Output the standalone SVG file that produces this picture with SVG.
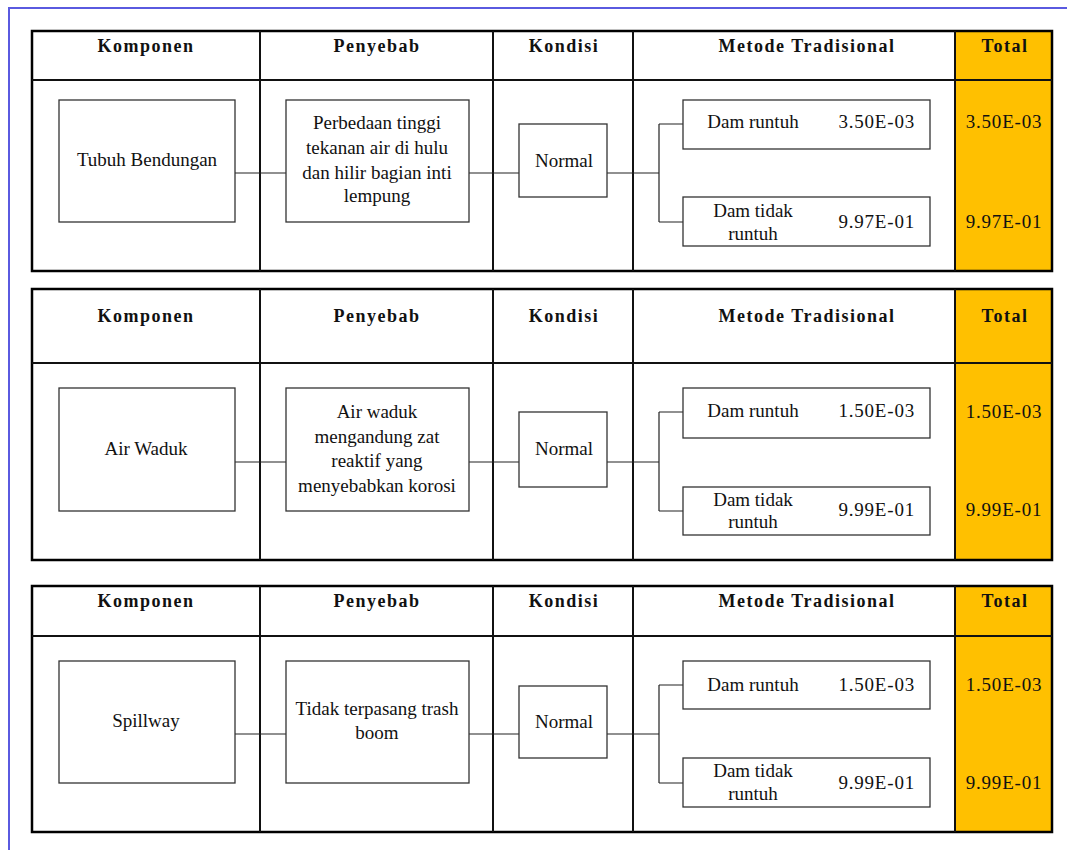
<svg xmlns="http://www.w3.org/2000/svg" width="1067" height="850" viewBox="0 0 1067 850" font-family="'Liberation Serif', 'Times New Roman', 'DejaVu Serif', serif">
<style>
.frame{fill:none;stroke:#5a5ae0;stroke-width:2}
.tbl{fill:none;stroke:#000;stroke-width:2.5}
.div{fill:none;stroke:#111;stroke-width:2}
.tot{fill:#FFC000;stroke:none}
.box{fill:#fff;stroke:#333;stroke-width:1.3}
.con{fill:none;stroke:#222;stroke-width:1.2}
text{font-family:'Liberation Serif','Times New Roman','DejaVu Serif',serif;fill:#111}
.h{font-weight:bold;font-size:18px;letter-spacing:1.5px;text-anchor:middle}
.t{font-size:19px;text-anchor:middle}
.n{font-size:19px;letter-spacing:0.8px;text-anchor:end}
.nc{font-size:19px;letter-spacing:0.8px;text-anchor:middle}
</style>
<rect width="1067" height="850" fill="#fff"/>
<path class="frame" d="M9 850 V8 H1067"/>

<!-- Table 1 -->
<g id="table1">
<rect class="tot" x="955" y="31" width="97" height="240"/>
<rect class="tbl" x="32" y="31" width="1020" height="240"/>
<path class="div" d="M32 80 H1052 M260 31 V271 M493 31 V271 M633 31 V271 M955 31 V271"/>
<text class="h" x="146" y="52">Komponen</text>
<text class="h" x="377" y="52">Penyebab</text>
<text class="h" x="564" y="52">Kondisi</text>
<text class="h" x="807" y="52">Metode Tradisional</text>
<text class="h" x="1005" y="52">Total</text>
</g>
<g id="connectors1">
<path class="con" d="M235 173 H286 M469 173 H519 M607 173 H659 M659 124 V222 M659 124 H683 M659 222 H683"/>
</g>
<g id="t1-komponen"><rect class="box" x="59" y="100" width="176" height="122"/><text class="t" x="147" y="166">Tubuh Bendungan</text></g>
<g id="t1-penyebab"><rect class="box" x="286" y="100" width="183" height="122"/>
<text class="t" x="377" y="129">Perbedaan tinggi</text>
<text class="t" x="377" y="154">tekanan air di hulu</text>
<text class="t" x="377" y="179">dan hilir bagian inti</text>
<text class="t" x="377" y="202">lempung</text></g>
<g id="t1-kondisi"><rect class="box" x="519" y="124" width="88" height="73"/><text class="t" x="564" y="167">Normal</text></g>
<g id="t1-runtuh"><rect class="box" x="683" y="100" width="247" height="49"/><text class="t" x="753" y="128">Dam runtuh</text><text class="n" x="915" y="128">3.50E-03</text></g>
<g id="t1-tidak"><rect class="box" x="683" y="197" width="247" height="49"/><text class="t" x="753" y="217">Dam tidak</text><text class="t" x="753" y="240">runtuh</text><text class="n" x="915" y="228">9.97E-01</text></g>
<g id="t1-total"><text class="nc" x="1004" y="128">3.50E-03</text><text class="nc" x="1004" y="228">9.97E-01</text></g>

<!-- Table 2 -->
<g id="table2">
<rect class="tot" x="955" y="289" width="97" height="271"/>
<rect class="tbl" x="32" y="289" width="1020" height="271"/>
<path class="div" d="M32 363 H1052 M260 289 V560 M493 289 V560 M633 289 V560 M955 289 V560"/>
<text class="h" x="146" y="322">Komponen</text>
<text class="h" x="377" y="322">Penyebab</text>
<text class="h" x="564" y="322">Kondisi</text>
<text class="h" x="807" y="322">Metode Tradisional</text>
<text class="h" x="1005" y="322">Total</text>
</g>
<g id="connectors2">
<path class="con" d="M235 462 H286 M469 462 H519 M607 462 H659 M659 412 V511 M659 412 H683 M659 511 H683"/>
</g>
<g id="t2-komponen"><rect class="box" x="59" y="388" width="176" height="123"/><text class="t" x="146" y="455">Air Waduk</text></g>
<g id="t2-penyebab"><rect class="box" x="286" y="388" width="183" height="123"/>
<text class="t" x="377" y="418">Air waduk</text>
<text class="t" x="377" y="443">mengandung zat</text>
<text class="t" x="377" y="467">reaktif yang</text>
<text class="t" x="377" y="492">menyebabkan korosi</text></g>
<g id="t2-kondisi"><rect class="box" x="519" y="412" width="88" height="75"/><text class="t" x="564" y="455">Normal</text></g>
<g id="t2-runtuh"><rect class="box" x="683" y="388" width="247" height="50"/><text class="t" x="753" y="417">Dam runtuh</text><text class="n" x="915" y="417">1.50E-03</text></g>
<g id="t2-tidak"><rect class="box" x="683" y="487" width="247" height="48"/><text class="t" x="753" y="506">Dam tidak</text><text class="t" x="753" y="528">runtuh</text><text class="n" x="915" y="516">9.99E-01</text></g>
<g id="t2-total"><text class="nc" x="1004" y="418">1.50E-03</text><text class="nc" x="1004" y="516">9.99E-01</text></g>

<!-- Table 3 -->
<g id="table3">
<rect class="tot" x="955" y="586" width="97" height="246"/>
<rect class="tbl" x="32" y="586" width="1020" height="246"/>
<path class="div" d="M32 636 H1052 M260 586 V832 M493 586 V832 M633 586 V832 M955 586 V832"/>
<text class="h" x="146" y="607">Komponen</text>
<text class="h" x="377" y="607">Penyebab</text>
<text class="h" x="564" y="607">Kondisi</text>
<text class="h" x="807" y="607">Metode Tradisional</text>
<text class="h" x="1005" y="607">Total</text>
</g>
<g id="connectors3">
<path class="con" d="M235 734 H286 M469 734 H519 M607 734 H659 M659 685 V783 M659 685 H683 M659 783 H683"/>
</g>
<g id="t3-komponen"><rect class="box" x="59" y="661" width="176" height="122"/><text class="t" x="146" y="727">Spillway</text></g>
<g id="t3-penyebab"><rect class="box" x="286" y="661" width="183" height="122"/>
<text class="t" x="377" y="715">Tidak terpasang trash</text>
<text class="t" x="377" y="739">boom</text></g>
<g id="t3-kondisi"><rect class="box" x="519" y="686" width="88" height="72"/><text class="t" x="564" y="728">Normal</text></g>
<g id="t3-runtuh"><rect class="box" x="683" y="661" width="247" height="48"/><text class="t" x="753" y="691">Dam runtuh</text><text class="n" x="915" y="691">1.50E-03</text></g>
<g id="t3-tidak"><rect class="box" x="683" y="758" width="247" height="49"/><text class="t" x="753" y="777">Dam tidak</text><text class="t" x="753" y="800">runtuh</text><text class="n" x="915" y="789">9.99E-01</text></g>
<g id="t3-total"><text class="nc" x="1004" y="691">1.50E-03</text><text class="nc" x="1004" y="789">9.99E-01</text></g>
</svg>
